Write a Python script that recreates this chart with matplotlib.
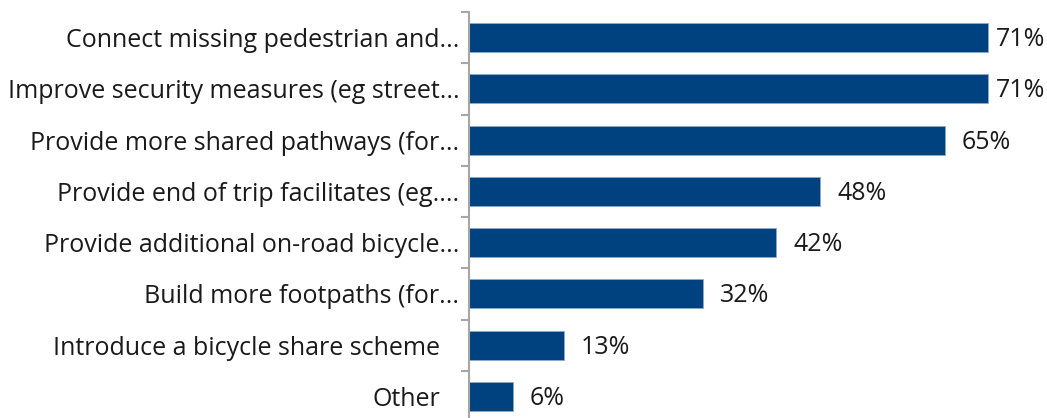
import numpy as np
import matplotlib.pyplot as plt

categories = ['Connect missing pedestrian and...',
              'Improve security measures (eg street...',
              'Provide more shared pathways (for...',
              'Provide end of trip facilitates (eg....',
              'Provide additional on-road bicycle...',
              'Build more footpaths (for...',
              'Introduce a bicycle share scheme',
              'Other']
values = [71, 71, 65, 48, 42, 32, 13, 6]

plt.rcParams['font.family'] = ['Open Sans', 'DejaVu Sans']

W, H = 1047, 418
fig = plt.figure(figsize=(W / 100, H / 100), dpi=100)
ax = fig.add_axes([469 / W, 1 - 422 / H, (W - 469) / W, 410 / H])

xmax = 79.0
y = np.arange(len(categories))
ax.barh(y, values, height=0.57, color='#00427F', edgecolor='#8FAACB', linewidth=0.6)

# value labels, pulled in when they would run off the right edge
for yi, v in zip(y, values):
    if v + 2.3 + 7.2 > xmax:
        ax.text(xmax - 0.2, yi + 0.04, f'{v}%', va='center', ha='right', fontsize=18, color='#1a1a1a')
    else:
        ax.text(v + 2.3, yi + 0.04, f'{v}%', va='center', ha='left', fontsize=18, color='#1a1a1a')

ax.set_xlim(0, xmax)
ax.set_ylim(len(categories) - 0.5, -0.5)
ax.set_yticks(y)
ax.set_yticklabels(categories, fontsize=18, color='#1a1a1a')
ax.set_yticks(np.arange(len(categories) + 1) - 0.5, minor=True)
ax.tick_params(axis='y', which='major', length=0, pad=7)
ax.tick_params(axis='y', which='minor', length=6, width=1.5, color='#A6A6A6', direction='out')
ax.set_xticks([])

# untruncated labels sit a little further from the axis, as in the original
for lab in ax.get_yticklabels():
    if not lab.get_text().endswith('.'):
        lab.set_x(-0.033)

for s in ['top', 'right', 'bottom']:
    ax.spines[s].set_visible(False)
ax.spines['left'].set_color('#A6A6A6')
ax.spines['left'].set_linewidth(1.5)

fig.savefig('out.png', dpi=100)
